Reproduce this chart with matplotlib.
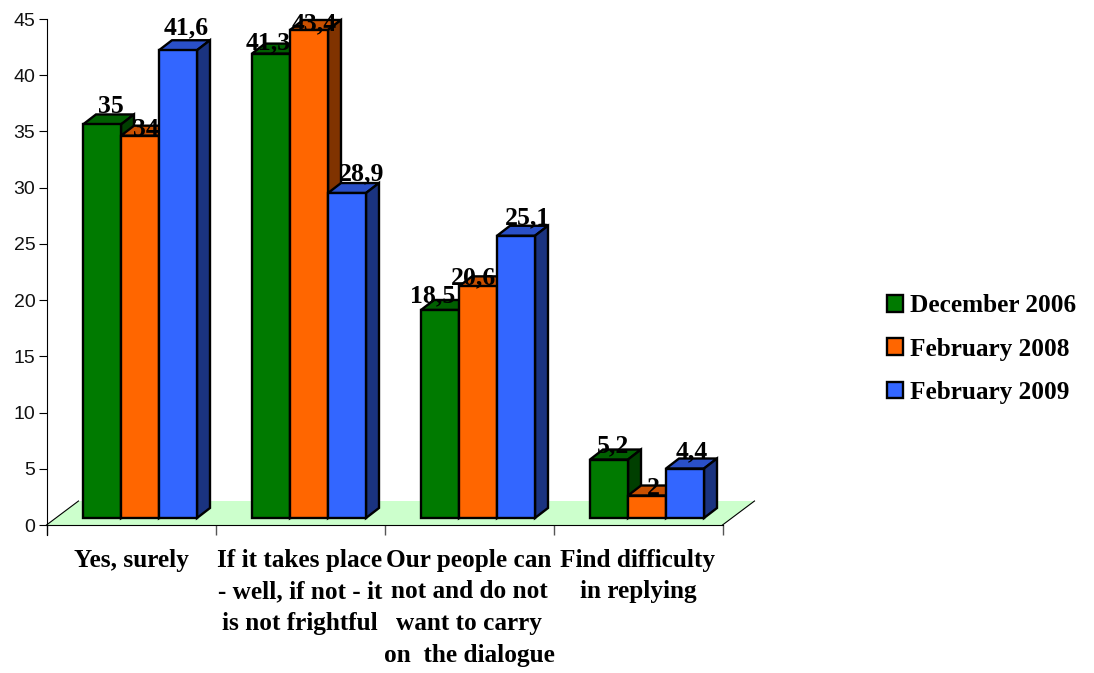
import matplotlib
matplotlib.use("Agg")
import matplotlib.pyplot as plt
from matplotlib.patches import Patch, Polygon

categories = ["Yes, surely", "If it takes place\n- well, if not - it\nis not frightful",
              "Our people can\nnot and do not\nwant to carry\non  the dialogue", "Find difficulty\nin replying"]
series = ["December 2006", "February 2008", "February 2009"]
dec_2006 = [35, 41.3, 18.5, 5.2]
feb_2008 = [34, 43.4, 20.6, 2]
feb_2009 = [41.6, 28.9, 25.1, 4.4]
labels_2006 = ["35", "41,3", "18,5", "5,2"]
labels_2008 = ["34", "43,4", "20,6", "2"]
labels_2009 = ["41,6", "28,9", "25,1", "4,4"]

front = ["#007a00", "#ff6600", "#3366ff"]
top = ["#005f00", "#c95000", "#2a50c8"]
side = ["#003f00", "#803300", "#1a3380"]

# where each label sits relative to its bar, in points (the original is uneven)
lift_2006 = [8, 3, 5.5, 5]
lift_2008 = [0, 0, 1.5, 0.5]
lift_2009 = [11.5, 9.5, 8.5, 7]
shift_2006 = [6.5, -2, -5, 3.2]
shift_2008 = [4.3, 3.6, -3, 4.3]
shift_2009 = [5.8, 10.8, 8, 5]

W, H = 1094, 673
fig = plt.figure(figsize=(W / 100, H / 100), dpi=100)
ax = fig.add_axes([46.5 / W, 1 - 525 / H, 676 / W, 506 / H])
ax.set_xlim(0, 4)
ax.set_ylim(0, 45)

px_x = 4 / 676
px_y = 45 / 506
bar_w = 38 * px_x
start = 36.5 * px_x
base = 7 * px_y
dx = 13 * px_x
dy = 10 * px_y

# floor
fx = 32 * px_x
fy = 24 * px_y
ax.add_patch(Polygon([(0, 0), (4, 0), (4 + fx, fy), (fx, fy)], closed=True, fc="#ccffcc", ec="none",
                     clip_on=False, zorder=1))
ax.plot([0, fx], [0, fy], color="black", lw=0.8, clip_on=False, zorder=2)
ax.plot([4, 4 + fx], [0, fy], color="black", lw=0.8, clip_on=False, zorder=2)
ax.plot([0, 4], [0, 0], color="black", lw=0.8, clip_on=False, zorder=2)

z = 3
for i in range(4):
    vals = [dec_2006[i], feb_2008[i], feb_2009[i]]
    txts = [labels_2006[i], labels_2008[i], labels_2009[i]]
    lifts = [lift_2006[i], lift_2008[i], lift_2009[i]]
    shifts = [shift_2006[i], shift_2008[i], shift_2009[i]]
    for j in range(3):
        x0 = i + start + j * bar_w
        x1 = x0 + bar_w
        y1 = base + vals[j]
        ax.add_patch(Polygon([(x0, y1), (x1, y1), (x1 + dx, y1 + dy), (x0 + dx, y1 + dy)], closed=True,
                             fc=top[j], ec="black", lw=1.7, clip_on=False, zorder=z, joinstyle="miter"))
        ax.add_patch(Polygon([(x1, base), (x1 + dx, base + dy), (x1 + dx, y1 + dy), (x1, y1)], closed=True,
                             fc=side[j], ec="black", lw=1.7, clip_on=False, zorder=z, joinstyle="miter"))
        ax.bar(x0, vals[j], width=bar_w, bottom=base, align="edge", color=front[j], edgecolor="black",
               linewidth=1.7, clip_on=False, zorder=z + 1)
        # labels stay above the finished bar, only the next bar in the group can cover them
        ax.annotate(txts[j], (x0 + bar_w / 2, y1), xytext=(shifts[j], lifts[j]), textcoords="offset points",
                    ha="center", va="baseline", fontsize=18.5, fontweight="bold", family="Liberation Serif",
                    color="black", annotation_clip=False, zorder=z + 2)
        z += 3

ax.set_yticks(range(0, 50, 5))
ax.set_xticks(range(5))
ax.set_xticklabels([])
ax.set_xticks([i + 0.5 for i in range(4)], minor=True)
ax.set_xticklabels(categories, minor=True, fontsize=18.2, fontweight="bold", family="Liberation Serif",
                   linespacing=1.48)
ax.tick_params(axis="x", which="major", length=7.5, width=1, color="#555555")
ax.tick_params(axis="x", which="minor", length=0, pad=17)
ax.tick_params(axis="y", length=6, width=0.8, pad=2)
for t in ax.get_yticklabels():
    t.set_family("Liberation Sans")
    t.set_fontsize(14)
    t.set_color("#111111")
ax.spines["top"].set_visible(False)
ax.spines["right"].set_visible(False)
ax.spines["bottom"].set_visible(False)
ax.spines["left"].set_linewidth(0.8)
ax.spines["left"].set_bounds(0, 45)
ax.plot([0, 0], [0, -10 * px_y], color="black", lw=0.8, clip_on=False)
ax.patch.set_alpha(0)

handles = [Patch(fc=front[j], ec="black", lw=1.7) for j in range(3)]
fig.legend(handles, series, loc="center left", bbox_to_anchor=(887 / W, 1 - 349 / H), frameon=False,
           prop={"family": "Liberation Serif", "weight": "bold", "size": 18.2}, handlelength=0.62,
           handleheight=0.62, handletextpad=0.28, labelspacing=0.8, borderpad=0, borderaxespad=0)

fig.savefig("out.png", dpi=100)
